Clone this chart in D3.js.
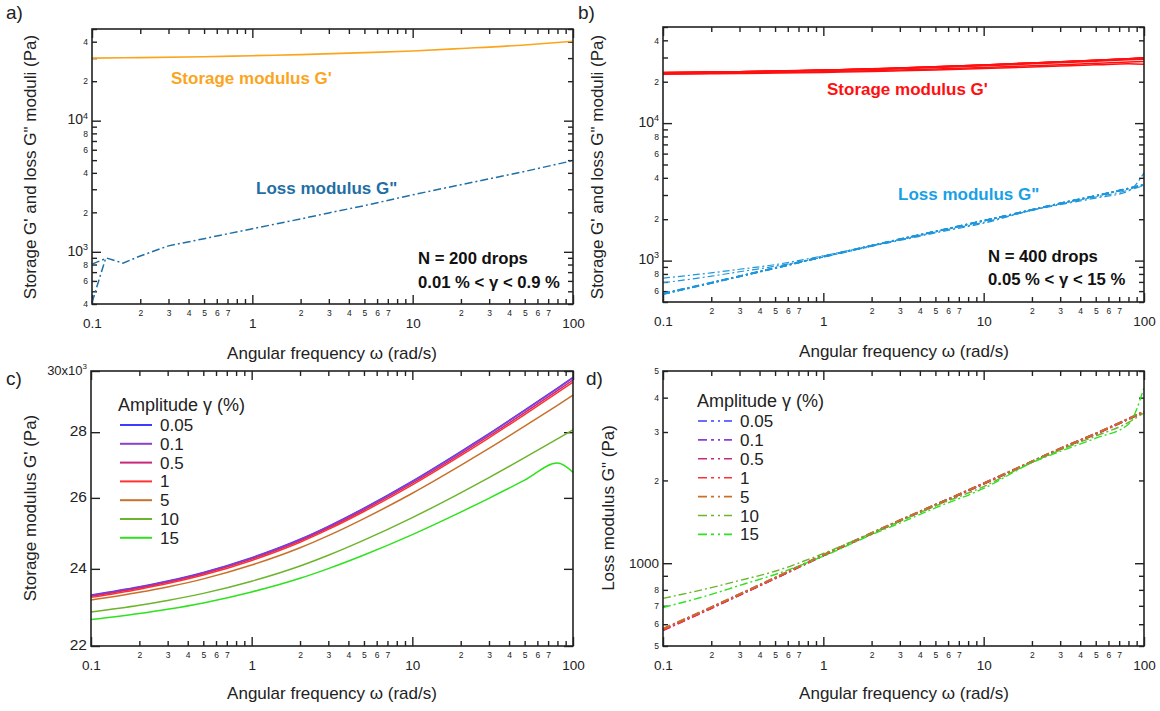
<!DOCTYPE html>
<html><head><meta charset="utf-8">
<script src="https://cdn.jsdelivr.net/npm/d3@7"></script>
<style>body{margin:0;background:#fff;} svg{font-family:"Liberation Sans",Arial,sans-serif;}</style>
</head><body><svg id="chart" width="1160" height="711"></svg>
<script>
// ---------------- DATA ----------------
const amplitudes = ["0.05","0.1","0.5","1","5","10","15"];
const ampColors = ["#3c3cff","#8a3fd0","#c8287a","#ff3232","#c8702a","#6cb42c","#2ee21e"];

// panel a (N = 200 drops)
const omegaA_storage = [0.1,0.2,0.5,1,2,5,10,20,50,100];
const storageA = [30000,30250,30750,31300,31900,33000,34000,35500,37800,40300];
const omegaA_loss = [0.1,0.11,0.122,0.156,0.2,0.3,0.5,1,2,3,5,10,20,30,50,100];
const lossA = [410,600,900,820,930,1110,1260,1500,1780,1980,2250,2720,3250,3600,4100,4960];
const omegaA_loss2 = [0.1,0.122];
const lossA2 = [805,890];

// panels b, c, d (N = 400 drops), per amplitude
const omegaC = [0.1,0.2,0.3,0.5,1,2,3,5,10,20,30,50,80,100];
const storage_005 = [23300,23519,23672,23903,24304,24814,25179,25700,26494,27391,27952,28704,29428,29785];
const storage_01  = [23290,23509,23662,23892,24293,24802,25167,25688,26481,27377,27937,28689,29412,29769];
const storage_05  = [23270,23487,23639,23868,24265,24770,25132,25648,26435,27324,27880,28625,29343,29697];
const storage_1   = [23240,23456,23606,23834,24229,24731,25091,25604,26386,27270,27822,28563,29276,29628];
const storage_5   = [23170,23373,23516,23730,24103,24577,24916,25400,26137,26971,27492,28190,28863,29195];
const storage_10  = [22860,23036,23159,23345,23667,24077,24371,24790,25428,26149,26600,27205,27787,28074];
const storage_15  = [22665,22821,22931,23096,23382,23746,24007,24379,24946,25586,25987,26524,27040,26760];

const loss_005 = [575,690,770,885,1070,1285,1430,1630,1950,2340,2610,2960,3350,3560];
const loss_01  = [572,688,768,882,1068,1283,1428,1628,1948,2338,2605,2955,3345,3555];
const loss_05  = [570,686,766,880,1066,1280,1425,1625,1945,2335,2600,2950,3340,3550];
const loss_1   = [572,688,768,882,1068,1282,1428,1628,1950,2340,2608,2958,3348,3560];
const loss_5   = [578,692,772,886,1072,1288,1433,1633,1952,2345,2612,2962,3352,3565];
const loss_10  = [745,815,865,935,1085,1285,1420,1615,1900,2330,2580,2900,3250,3520];
const loss_15  = [690,770,830,910,1060,1270,1400,1590,1870,2320,2550,2850,3200,4350];

const storageSeries = [storage_005,storage_01,storage_05,storage_1,storage_5,storage_10,storage_15];
const lossSeries = [loss_005,loss_01,loss_05,loss_1,loss_5,loss_10,loss_15];

// tick labels
const xMajorTicks = [0.1,1,10,100];
const xMajorLabels = ["0.1","1","10","100"];
const xMinorLabelValues = [0.2,0.3,0.4,0.5,0.6,0.7,2,3,4,5,6,7,20,30,40,50,60,70];
const aYMajor = [1000,10000];
const aYMinorLabels = [400,600,800,2000,4000,6000,8000,20000,40000];
const bYMajor = [1000,10000];
const bYMinorLabels = [600,800,2000,4000,6000,8000,20000,40000];
const cYTicks = [22000,24000,26000,28000,30000];
const cYLabels = ["22","24","26","28","30x10"];
const dYMajor = [1000];
const dYMinorLabels = [500,600,700,800,2000,3000,4000,5000];

// ---------------- DRAW ----------------
const svg = d3.select("#chart");
const INK = "#222";
const isMajor = v => Math.abs(Math.log10(v) - Math.round(Math.log10(v))) < 1e-9;
const mant = v => Math.round(v / Math.pow(10, Math.floor(Math.log10(v) + 1e-9)));

function frame(p) {
  const x = d3.scaleLog().domain([0.1,100]).range([p.x0,p.x1]);
  const g = svg.append("g");
  const all = x.ticks();
  const maj = all.filter(isMajor), min = all.filter(v => !isMajor(v));
  [[d3.axisBottom, p.y1, maj, -9],[d3.axisBottom, p.y1, min, -5],
   [d3.axisTop, p.y0, maj, -9],[d3.axisTop, p.y0, min, -5]].forEach(([f,yy,vals,len]) => {
    const a = g.append("g").attr("transform",`translate(0,${yy})`)
      .call(f(x).tickValues(vals).tickSizeInner(len).tickSizeOuter(0).tickFormat(""));
    a.select(".domain").remove();
    a.selectAll("line").attr("stroke",INK).attr("stroke-width",1.4);
  });
  const lm = g.append("g").attr("transform",`translate(0,${p.y1})`)
    .call(d3.axisBottom(x).tickValues(xMinorLabelValues).tickSize(0).tickPadding(6).tickFormat(d => String(mant(d))));
  lm.select(".domain").remove();
  lm.selectAll("text").attr("font-size",8.5).attr("fill",INK).attr("dy","0.71em");
  const lM = g.append("g").attr("transform",`translate(0,${p.y1})`)
    .call(d3.axisBottom(x).tickValues(xMajorTicks).tickSize(0).tickPadding(14.5).tickFormat((d,i) => xMajorLabels[i]));
  lM.select(".domain").remove();
  lM.selectAll("text").attr("font-size",13.5).attr("fill",INK).attr("dy","0.71em");
  return {x, g};
}

function yTicks(g, y, p, majors, minors) {
  [[d3.axisLeft, p.x0, majors, -9],[d3.axisLeft, p.x0, minors, -5],
   [d3.axisRight, p.x1, majors, -9],[d3.axisRight, p.x1, minors, -5]].forEach(([f,xx,vals,len]) => {
    const a = g.append("g").attr("transform",`translate(${xx},0)`)
      .call(f(y).tickValues(vals).tickSizeInner(len).tickSizeOuter(0).tickFormat(""));
    a.select(".domain").remove();
    a.selectAll("line").attr("stroke",INK).attr("stroke-width",1.4);
  });
}

function yLabelsMinor(g, y, p, vals) {
  const a = g.append("g").attr("transform",`translate(${p.x0},0)`)
    .call(d3.axisLeft(y).tickValues(vals).tickSize(0).tickPadding(4).tickFormat(d => String(mant(d))));
  a.select(".domain").remove();
  a.selectAll("text").attr("font-size",8.5).attr("fill",INK);
}
function yLabelsPow(g, y, p, vals) {
  const a = g.append("g").attr("transform",`translate(${p.x0},0)`)
    .call(d3.axisLeft(y).tickValues(vals).tickSize(0).tickPadding(4).tickFormat(""));
  a.select(".domain").remove();
  a.selectAll(".tick text").attr("fill",INK).each(function(d) {
    const t = d3.select(this);
    t.append("tspan").attr("font-size",14).text("10");
    t.append("tspan").attr("font-size",9).attr("dy","-0.65em").text(String(Math.round(Math.log10(d))));
  });
}

function border(g, p) {
  g.append("rect").attr("x",p.x0).attr("y",p.y0).attr("width",p.x1-p.x0).attr("height",p.y1-p.y0)
    .attr("fill","none").attr("stroke",INK).attr("stroke-width",1.6);
}

function txt(x, y, s, o = {}) {
  const t = svg.append("text").attr("x",x).attr("y",y).text(s)
    .attr("font-size",o.size || 17).attr("fill",o.fill || INK)
    .attr("font-weight",o.bold ? "bold" : "normal").attr("text-anchor",o.anchor || "start");
  if (o.rot) t.attr("transform",`rotate(-90,${x},${y})`);
  return t;
}

function path(g, xs, ys, x, y, color, width, dash, curve) {
  const pts = xs.map((v,i) => [v, ys[i]]);
  g.append("path").datum(pts)
    .attr("d", d3.line().x(d => x(d[0])).y(d => y(d[1])).curve(curve || d3.curveMonotoneX))
    .attr("fill","none").attr("stroke",color).attr("stroke-width",width)
    .attr("stroke-dasharray",dash || null);
}

// ---- panel a ----
const pA = {x0:92,x1:573,y0:29,y1:304};
{
  const {x, g} = frame(pA);
  const y = d3.scaleLog().domain([400,50000]).range([pA.y1,pA.y0]);
  const all = y.ticks();
  yTicks(g, y, pA, all.filter(isMajor), all.filter(v => !isMajor(v)));
  yLabelsMinor(g, y, pA, aYMinorLabels);
  yLabelsPow(g, y, pA, aYMajor);
  path(g, omegaA_storage, storageA, x, y, "#fba51e", 1.6);
  path(g, omegaA_loss, lossA, x, y, "#1f6fa5", 1.5, "8,3,2,3", d3.curveLinear);
  path(g, omegaA_loss2, lossA2, x, y, "#1f6fa5", 1.5, "8,3,2,3", d3.curveLinear);
  border(g, pA);
  txt(171, 84, "Storage modulus G'", {size:17, bold:true, fill:"#fba51e"});
  txt(256, 194, "Loss modulus G\"", {size:17, bold:true, fill:"#1f6fa5"});
  txt(418, 264, "N = 200 drops", {size:16.7, bold:true, fill:"#111"});
  txt(418, 288, "0.01 % < γ < 0.9 %", {size:16.7, bold:true, fill:"#111"});
  txt(332, 359, "Angular frequency ω (rad/s)", {anchor:"middle"});
  txt(36, 167, "Storage G' and loss G\" moduli (Pa)", {anchor:"middle", rot:true});
  txt(6, 19, "a)", {size:19});
}

// ---- panel b ----
const pB = {x0:663,x1:1144,y0:27,y1:302};
{
  const {x, g} = frame(pB);
  const y = d3.scaleLog().domain([500,50000]).range([pB.y1,pB.y0]);
  const all = y.ticks();
  yTicks(g, y, pB, all.filter(isMajor), all.filter(v => !isMajor(v)));
  yLabelsMinor(g, y, pB, bYMinorLabels);
  yLabelsPow(g, y, pB, bYMajor);
  storageSeries.forEach(s => path(g, omegaC, s, x, y, "#ff1010", 1.5));
  lossSeries.forEach((s,i) => path(g, omegaC, s, x, y, "#1e96dc", i < 5 ? 1.6 : 1.2, "7,3,2,3"));
  border(g, pB);
  txt(827, 95, "Storage modulus G'", {size:17, bold:true, fill:"#ff1010"});
  txt(898, 200, "Loss modulus G\"", {size:17, bold:true, fill:"#1aa0e6"});
  txt(988, 262, "N = 400 drops", {size:16.7, bold:true, fill:"#111"});
  txt(988, 285, "0.05 % < γ < 15 %", {size:16.7, bold:true, fill:"#111"});
  txt(904, 357, "Angular frequency ω (rad/s)", {anchor:"middle"});
  txt(603, 167, "Storage G' and loss G\" moduli (Pa)", {anchor:"middle", rot:true});
  txt(578, 19, "b)", {size:19});
}

// ---- panel c ----
const pC = {x0:91,x1:573,y0:371,y1:646};
{
  const {x, g} = frame(pC);
  const y = d3.scaleLog().domain([22000,30000]).range([pC.y1,pC.y0]);
  yTicks(g, y, pC, cYTicks, []);
  const a = g.append("g").attr("transform",`translate(${pC.x0},0)`)
    .call(d3.axisLeft(y).tickValues(cYTicks).tickSize(0).tickPadding(4).tickFormat(""));
  a.select(".domain").remove();
  a.selectAll(".tick text").attr("fill",INK).each(function(d,i) {
    const t = d3.select(this);
    if (i === cYLabels.length - 1) {
      t.append("tspan").attr("font-size",13).text(cYLabels[i]);
      t.append("tspan").attr("font-size",8).attr("dy","-0.7em").text("3");
    } else {
      t.append("tspan").attr("font-size",15.5).text(cYLabels[i]);
    }
  });
  storageSeries.forEach((s,i) => path(g, omegaC, s, x, y, ampColors[i], 1.5));
  border(g, pC);
  txt(118, 411, "Amplitude γ (%)", {size:18});
  amplitudes.forEach((a,i) => {
    const yy = 425 + i*18.8;
    svg.append("line").attr("x1",120).attr("x2",152).attr("y1",yy).attr("y2",yy)
      .attr("stroke",ampColors[i]).attr("stroke-width",2);
    txt(160, yy + 6, a, {size:17});
  });
  txt(332, 699, "Angular frequency ω  (rad/s)", {anchor:"middle"});
  txt(36, 508, "Storage modulus G' (Pa)", {anchor:"middle", rot:true});
  txt(6, 385, "c)", {size:19});
}

// ---- panel d ----
const pD = {x0:663,x1:1144,y0:371,y1:646};
{
  const {x, g} = frame(pD);
  const y = d3.scaleLog().domain([500,5000]).range([pD.y1,pD.y0]);
  const all = y.ticks();
  yTicks(g, y, pD, all.filter(isMajor), all.filter(v => !isMajor(v)));
  yLabelsMinor(g, y, pD, dYMinorLabels);
  const a = g.append("g").attr("transform",`translate(${pD.x0},0)`)
    .call(d3.axisLeft(y).tickValues(dYMajor).tickSize(0).tickPadding(4).tickFormat(d => String(d)));
  a.select(".domain").remove();
  a.selectAll("text").attr("font-size",13.5).attr("fill",INK);
  lossSeries.forEach((s,i) => path(g, omegaC, s, x, y, ampColors[i], i < 5 ? 2 : 1.4, "8,3,2,3"));
  border(g, pD);
  txt(697, 407, "Amplitude γ (%)", {size:18});
  amplitudes.forEach((a,i) => {
    const yy = 421 + i*18.9;
    svg.append("line").attr("x1",698).attr("x2",732).attr("y1",yy).attr("y2",yy)
      .attr("stroke",ampColors[i]).attr("stroke-width",1.6).attr("stroke-dasharray","9,4,3,4,2,4");
    txt(740, yy + 6, a, {size:17});
  });
  txt(904, 699, "Angular frequency ω  (rad/s)", {anchor:"middle"});
  txt(614, 508, "Loss modulus G\" (Pa)", {anchor:"middle", rot:true});
  txt(586, 385, "d)", {size:19});
}
</script></body></html>
